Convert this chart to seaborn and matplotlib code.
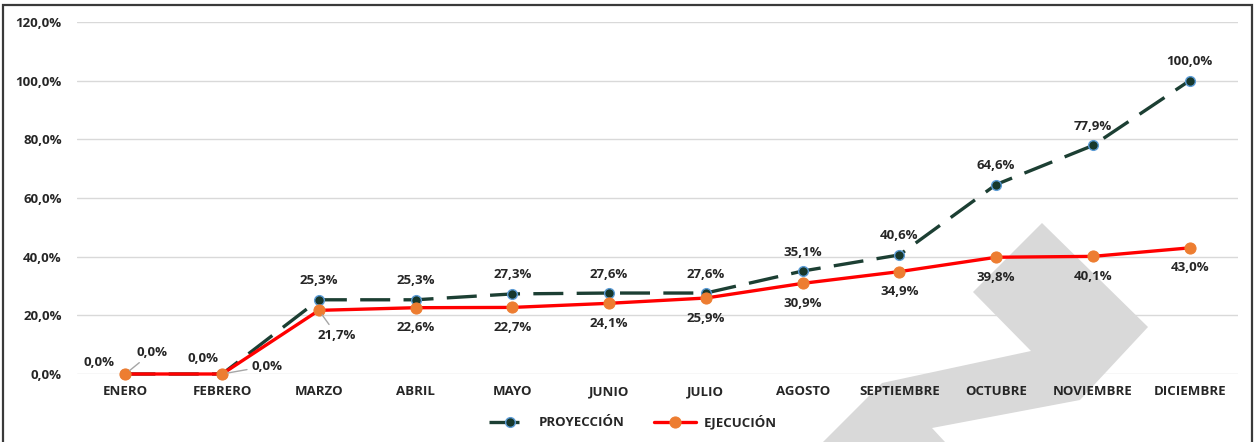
import numpy as np
import pandas as pd
import matplotlib.pyplot as plt
from matplotlib.patches import Polygon, Rectangle
import seaborn as sns

# datos
meses = ["ENERO", "FEBRERO", "MARZO", "ABRIL", "MAYO", "JUNIO", "JULIO",
         "AGOSTO", "SEPTIEMBRE", "OCTUBRE", "NOVIEMBRE", "DICIEMBRE"]
proyeccion = [0.0, 0.0, 25.3, 25.3, 27.3, 27.6, 27.6, 35.1, 40.6, 64.6, 77.9, 100.0]
ejecucion = [0.0, 0.0, 21.7, 22.6, 22.7, 24.1, 25.9, 30.9, 34.9, 39.8, 40.1, 43.0]
y_ticks = [0, 20, 40, 60, 80, 100, 120]

df = pd.DataFrame({"mes": meses, "proyeccion": proyeccion, "ejecucion": ejecucion})

sns.set_theme(style="white")
plt.rcParams["font.family"] = ["Open Sans", "DejaVu Sans"]
txt = "#262626"

W, H = 1256, 442
fig = plt.figure(figsize=(W / 100, H / 100), dpi=100)
ax = fig.add_axes([77 / W, 68 / H, 1161 / W, 352 / H])
ax.set_facecolor("none")

# marca de agua gris (zigzag) detras del grafico
pts = [(1042, 223), (1148, 327), (1080, 400), (932, 428), (945, 442),
       (823, 442), (882, 383), (1031, 351), (973, 292)]
fig.patches.append(Polygon([(x / W, 1 - y / H) for x, y in pts], closed=True,
                           transform=fig.transFigure, facecolor="#d9d9d9",
                           edgecolor="none", zorder=-5))
# marco del grafico
fig.patches.append(Rectangle((3 / W, -0.05), 1249 / W, 1 - 5 / H + 0.05,
                             transform=fig.transFigure, fill=False,
                             edgecolor="#3a3a3a", lw=1.6, zorder=-4))

sns.lineplot(data=df, x="mes", y="proyeccion", sort=False, ax=ax,
             color="#1c3f33", lw=2.4, marker="o", markersize=7,
             markerfacecolor="#17382c", markeredgecolor="#5b9bd5", mew=1.0,
             label="PROYECCIÓN", zorder=3, clip_on=False)
ax.lines[-1].set_dashes((9, 4))
sns.lineplot(data=df, x="mes", y="ejecucion", sort=False, ax=ax,
             color="#ff0000", lw=2.4, marker="o", markersize=8,
             markerfacecolor="#ed7d31", markeredgecolor="#ed7d31",
             label="EJECUCIÓN", zorder=4, clip_on=False)

ax.set_xlim(-0.5, 11.5)
ax.set_ylim(0, 120)
ax.set_yticks(y_ticks)
ax.set_yticklabels([f"{v:.1f}%".replace(".", ",") for v in y_ticks])
ax.set_xlabel("")
ax.set_ylabel("")
ax.grid(axis="y", color="#d9d9d9", lw=1)
ax.grid(axis="x", visible=False)
for s in ax.spines.values():
    s.set_visible(False)
ax.tick_params(axis="both", length=0, labelsize=9.5, labelcolor=txt)
ax.tick_params(axis="x", pad=8)
ax.tick_params(axis="y", pad=11)
for lab in ax.get_xticklabels() + ax.get_yticklabels():
    lab.set_fontweight("bold")

fmt = lambda v: f"{v:.1f}%".replace(".", ",")
kw = dict(textcoords="offset pixels", ha="center", va="center",
          fontsize=9.5, fontweight="bold", color=txt, zorder=6)
lead = dict(arrowstyle="-", color="#a6a6a6", lw=1.0, shrinkA=1, shrinkB=4)

# offsets especiales (en pixeles) para las etiquetas de los primeros meses
proy_off = {0: (-26, 11), 1: (-19, 16)}
ejec_off = {0: (27, 22), 1: (45, 8), 2: (18, -25)}
for i, v in enumerate(proyeccion):
    ax.annotate(fmt(v), (i, v), xytext=proy_off.get(i, (0, 19)), **kw)
for i, v in enumerate(ejecucion):
    if i in ejec_off:
        ax.annotate(fmt(v), (i, v), xytext=ejec_off[i], arrowprops=lead, **kw)
    else:
        ax.annotate(fmt(v), (i, v), xytext=(0, -20), **kw)

leg = ax.legend(loc="center", bbox_to_anchor=(633 / W, 20 / H),
                bbox_transform=fig.transFigure, ncol=2, frameon=False,
                handlelength=3.2, columnspacing=2.2, handletextpad=0.6,
                prop={"size": 9.5, "weight": "bold"})
for t in leg.get_texts():
    t.set_color(txt)

fig.savefig("out.png", dpi=100)
